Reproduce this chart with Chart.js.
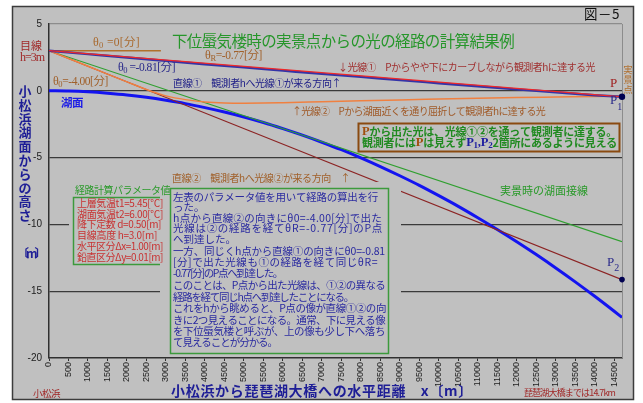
<!DOCTYPE html>
<html>
<head>
<meta charset="utf-8">
<script src="https://cdn.jsdelivr.net/npm/chart.js@4.4.0/dist/chart.umd.min.js"></script>
<style>
html,body{margin:0;padding:0;background:#fff;overflow:hidden}
canvas{display:block}
</style>
</head>
<body>
<canvas id="c" width="643" height="403"></canvas>
<script>
// ---- axis ticks ----
const xTicks = [0,500,1000,1500,2000,2500,3000,3500,4000,4500,5000,5500,6000,6500,7000,
                7500,8000,8500,9000,9500,10000,10500,11000,11500,12000,12500,13000,13500,14000,14500];
const yTicks = [5,0,-5,-10,-15,-20];

// ---- lake surface (湖面) height vs distance ----
const lakeX = [0,500,1000,1500,2000,2500,3000,3500,4000,4500,5000,5500,6000,6500,7000,7500,
               8000,8500,9000,9500,10000,10500,11000,11500,12000,12500,13000,13500,14000,14500,14700];
const lakeY = [0,-0.02,-0.08,-0.18,-0.31,-0.49,-0.71,-0.96,-1.26,-1.59,-1.96,-2.37,-2.83,-3.32,-3.85,-4.41,
               -5.02,-5.67,-6.36,-7.08,-7.85,-8.65,-9.50,-10.38,-11.30,-12.26,-13.26,-14.30,-15.38,-16.50,-16.96];

// ---- tangent to the lake surface (実景時の湖面接線) ----
const tangentX = [0,14700];
const tangentY = [3,-11.29];

// ---- straight line ② (θ0 = -4.00 分) ----
const line2X = [0,14700];
const line2Y = [3,-14.13];

// ---- straight line ① (θ0 = -0.81 分) ----
const line1X = [0,14700];
const line1Y = [3,-0.46];

// ---- horizontal line θ0 = 0 ----
const levelX = [0,2870];
const levelY = [3,3];

// ---- light ray ① ----
const ray1X = [0,1000,2000,3000,4000,5000,6000,7000,8000,9000,10000,11000,12000,13000,14000,14700];
const ray1Y = [3,2.745,2.49,2.24,1.99,1.75,1.51,1.27,1.04,0.80,0.57,0.34,0.11,-0.11,-0.33,-0.45];

// ---- light ray ② ----
const ray2X = [0,500,1000,1500,2000,2500,2800,3000,3500,4000,4500,5000,5500,6000,7000,8000,
               9000,10000,11000,12000,13000,14000,14700];
const ray2Y = [3,2.42,1.84,1.25,0.67,0.10,-0.20,-0.38,-0.66,-0.83,-0.91,-0.93,-0.92,-0.89,-0.82,-0.75,
               -0.68,-0.62,-0.56,-0.51,-0.47,-0.43,-0.40];

// ---- end points P1 / P2 ----
const markX = [14700,14700];
const markY = [-0.45,-14.13];

const pts = (xs, ys) => xs.map((x, i) => ({x: x, y: ys[i]}));

const JP = '"Noto Sans CJK JP", sans-serif';
const SERIF = '"Liberation Serif", "Noto Sans CJK JP", serif';
const fj = (s, b) => (b ? 'bold ' : '') + s + 'px ' + JP;
const fs = (s, b) => (b ? 'bold ' : '') + s + 'px ' + SERIF;

// draw a run of coloured segments, optionally spread to a given width
function richText(ctx, segs, x, y, w) {
  ctx.save();
  ctx.textBaseline = 'middle';
  ctx.textAlign = 'left';
  ctx.letterSpacing = '0px';
  let nat = 0, n = 0;
  segs.forEach(s => { ctx.font = s.f; nat += ctx.measureText(s.t).width; n += [...s.t].length; });
  let ls = 0;
  if (w) ls = Math.max(-3, Math.min(5, (w - nat) / Math.max(1, n)));
  ctx.letterSpacing = ls + 'px';
  let cx = x;
  segs.forEach(s => {
    ctx.font = s.f;
    ctx.fillStyle = s.c;
    ctx.fillText(s.t, cx, y + (s.dy || 0));
    cx += ctx.measureText(s.t).width;
  });
  ctx.restore();
}
const S = (t, c, f, dy) => ({t: t, c: c, f: f, dy: dy || 0});

function thetaLabel(ctx, sub, rest, color, x, y, w) {
  richText(ctx, [S('θ', color, fs(12)), S(sub, color, fs(8.5), 3), S(rest, color, fs(11.5))], x, y, w);
}

function box(ctx, x1, y1, x2, y2, stroke, lw, mask) {
  ctx.save();
  if (mask) {
    ctx.fillStyle = '#c0c0c0';
    ctx.fillRect(mask[0], mask[1], mask[2] - mask[0], mask[3] - mask[1]);
  }
  ctx.fillStyle = '#c0c0c0';
  ctx.fillRect(x1, y1, x2 - x1, y2 - y1);
  ctx.strokeStyle = stroke;
  ctx.lineWidth = lw;
  ctx.strokeRect(x1 + 0.5, y1 + 0.5, x2 - x1, y2 - y1);
  ctx.restore();
}

const frame = {
  id: 'frame',
  beforeDraw(chart) {
    const c = chart.ctx;
    c.save();
    c.fillStyle = '#ffffff';
    c.fillRect(0, 0, chart.width, chart.height);
    c.fillStyle = '#c0c0c0';
    c.fillRect(12, 6, 622, 394);
    c.strokeStyle = '#3c3c3c';
    c.lineWidth = 1.5;
    c.strokeRect(12.5, 6.5, 621, 393);
    c.restore();
  },
  beforeDatasetsDraw(chart) {
    const c = chart.ctx;
    const a = chart.chartArea;
    // right edge of plot
    c.save();
    c.strokeStyle = '#8c8c8c';
    c.lineWidth = 1;
    c.beginPath();
    c.moveTo(a.right + 0.5, a.top);
    c.lineTo(a.right + 0.5, a.bottom);
    c.stroke();
    c.restore();
  },
  afterDatasetsDraw(chart) {
    const c = chart.ctx;
    // parameter table
    box(c, 73, 197, 167, 264, '#3c9a3c', 1.5, [69, 186, 170, 268]);
    // explanation box
    box(c, 170, 188, 388, 353, '#3c9a3c', 1.5, [160, 182, 401, 356]);
    // conclusion box
    box(c, 358, 123, 619, 151, '#8a4a10', 2);
  },
  afterDraw(chart) {
    const c = chart.ctx;
    const title = '#26962a';

    // heading
    richText(c, [S('下位蜃気楼時の実景点からの光の経路の計算結果例', title, fj(15.5))], 172, 41, 342);
    richText(c, [S('図－5', '#101010', fj(13.5))], 584, 14, 36);

    // observer height
    richText(c, [S('目線', '#a02828', fj(11))], 20, 46, 22);
    richText(c, [S('h=3m', '#a02828', fs(12))], 20, 58, 24);

    // vertical axis title
    c.save();
    c.font = fj(13, true);
    c.fillStyle = '#1e1e96';
    c.textAlign = 'center';
    c.textBaseline = 'middle';
    [...'小松浜湖面からの高さ'].forEach((ch, i) => c.fillText(ch, 25, 91 + i * 13.8));
    c.restore();
    richText(c, [S('〔m〕', '#1e1e96', fj(12, true))], 17, 253, 23);

    // horizontal axis titles
    richText(c, [S('小松浜から琵琶湖大橋への水平距離　x〔m〕', '#1e1e96', fj(14, true))], 171, 391, 302);
    richText(c, [S('小松浜', '#a02828', fj(9.5))], 33, 393, 27);
    richText(c, [S('琵琶湖大橋までは14.7km', '#a02828', fj(9))], 524, 393, 91);

    // real point label (vertical)
    c.save();
    c.font = fj(9.5);
    c.fillStyle = '#b07030';
    c.textAlign = 'center';
    c.textBaseline = 'middle';
    [...'実景点'].forEach((ch, i) => c.fillText(ch, 628, 69.5 + i * 9.8));
    c.restore();

    // lake label
    richText(c, [S('湖面', '#1e1ee6', fj(11.5, true))], 61, 103, 22);

    // launch angles
    thetaLabel(c, '0', ' =0[分]', '#a8682c', 93, 43, 47);
    thetaLabel(c, '0', ' =-0.81[分]', '#2a2a8a', 118, 68, 57);
    thetaLabel(c, '0', '=-4.00[分]', '#a0602a', 53, 82, 55);
    thetaLabel(c, 'R', '=-0.77[分]', '#a0602a', 205, 56, 57);

    // line / ray descriptions
    richText(c, [S('直線①　観測者hへ光線①が来る方向↑', '#202088', fj(10))], 173, 83, 168);
    richText(c, [S('↓光線①　Pからやや下にカーブしながら観測者hに達する光', '#a03030', fj(10))], 338, 67, 257);
    richText(c, [S('↑光線②　Pから湖面近くを通り屈折して観測者hに達する光', '#a05a28', fj(10))], 292, 111, 253);
    richText(c, [S('直線②　観測者hへ光線②が来る方向　↑', '#a0602a', fj(10))], 172, 178, 178);
    richText(c, [S('実景時の湖面接線', '#2a9a2a', fj(11))], 500, 191, 88);

    // conclusion
    const g = '#208a20', br = '#a05010', bl = '#2020a0';
    richText(c, [S('P', br, fs(12.5, true)), S('から出た光は、光線①②を通って観測者に達する。', g, fj(11, true))], 362, 131.5, 255);
    richText(c, [S('観測者には', g, fj(11, true)), S('P', br, fs(12.5, true)), S('は見えず', g, fj(11, true)),
                 S('P', bl, fs(12.5, true)), S('1', bl, fs(9, true), 3), S(',', bl, fs(12.5, true)),
                 S('P', bl, fs(12.5, true)), S('2', bl, fs(9, true), 3), S('2箇所にあるように見える', g, fj(11, true))],
             362, 142.5, 255);

    // parameter table
    richText(c, [S('経路計算パラメータ値', '#2a9a2a', fj(10))], 75, 190, 95);
    const red = '#c83232';
    const params = ['上層気温t1=5.45[℃]', '湖面気温t2=6.00[℃]', '降下定数 d=0.50[m]',
                    '目線高度 h=3.0[m]', '水平区分Δx=1.00[m]', '鉛直区分Δy=0.01[m]'];
    const pw = [86, 86, 84, 80, 86, 86];
    params.forEach((t, i) => richText(c, [S(t, red, fj(10))], 77, 203 + i * 10.8, pw[i]));

    // explanation
    const blue = '#2a2aa0';
    const lines = [
      ['左表のパラメータ値を用いて経路の算出を行', 197, 205],
      ['った。', 207.5, 0],
      ['h点から直線②の向きにθ0=-4.00[分]で出た', 218, 209],
      ['光線は②の経路を経てθR=-0.77[分]のP点', 228.5, 210],
      ['へ到達した。', 239, 0],
      ['一方、同じくh点から直線①の向きにθ0=-0.81', 251, 212],
      ['[分]で出た光線も①の経路を経て同じθR=', 262, 205],
      ['-0.77[分]のP点へ到達した。', 273, 109],
      ['このことは、P点から出た光線は、①②の異なる', 285, 212],
      ['経路を経て同じh点へ到達したことになる。', 297, 180],
      ['これをhから眺めると、P点の像が直線①②の向', 308.5, 213],
      ['きに2つ見えることになる。通常、下に見える像', 320, 212],
      ['を下位蜃気楼と呼ぶが、上の像も少し下へ落ち', 331, 212],
      ['て見えることが分かる。', 342, 104]
    ];
    lines.forEach(l => richText(c, [S(l[0], blue, fj(10.5))], 173, l[1], l[2] || undefined));

    // end point labels
    richText(c, [S('P', '#a02020', fs(13))], 610, 84);
    richText(c, [S('P', '#2a2a8a', fs(13)), S('1', '#2a2a8a', fs(10), 6)], 610, 101);
    richText(c, [S('P', '#2a2a8a', fs(13)), S('2', '#2a2a8a', fs(10), 5)], 607, 263);
  }
};

const lineDs = (label, xs, ys, color, width, smooth) => ({
  label: label,
  data: pts(xs, ys),
  showLine: true,
  borderColor: color,
  backgroundColor: color,
  borderWidth: width,
  pointRadius: 0,
  fill: false,
  cubicInterpolationMode: smooth ? 'monotone' : 'default',
  tension: smooth ? 0.4 : 0
});

new Chart(document.getElementById('c'), {
  type: 'scatter',
  data: {
    datasets: [
      {
        label: 'P',
        data: pts(markX, markY),
        showLine: false,
        clip: false,
        pointRadius: [3.2, 2.8],
        pointBackgroundColor: '#000050',
        pointBorderWidth: 0
      },
      lineDs('直線①', line1X, line1Y, '#f02828', 1.2, false),
      lineDs('光線①', ray1X, ray1Y, '#3434a8', 2.4, true),
      lineDs('光線②', ray2X, ray2Y, '#f08040', 1.5, true),
      lineDs('直線②', line2X, line2Y, '#8c2424', 1.2, false),
      lineDs('実景時の湖面接線', tangentX, tangentY, '#30a030', 1.2, false),
      lineDs('θ0=0', levelX, levelY, '#b0702a', 1.6, false),
      lineDs('湖面', lakeX, lakeY, '#1414f0', 3, true)
    ]
  },
  options: {
    responsive: false,
    devicePixelRatio: 1,
    animation: false,
    events: [],
    layout: {padding: {left: 0, top: 24, right: 21, bottom: 0}},
    plugins: {legend: {display: false}, tooltip: {enabled: false}},
    scales: {
      x: {
        type: 'linear',
        min: 0,
        max: 14700,
        afterBuildTicks: s => { s.ticks = xTicks.map(v => ({value: v})); },
        afterFit: s => { s.height = 45; },
        ticks: {
          autoSkip: false,
          minRotation: 90,
          maxRotation: 90,
          padding: 1,
          color: '#202020',
          font: {family: 'Liberation Sans', size: 9},
          callback: v => String(v)
        },
        grid: {drawOnChartArea: false, drawTicks: true, tickLength: 3, color: '#303030'},
        border: {display: true, color: '#303030', width: 1.5}
      },
      y: {
        type: 'linear',
        min: -20,
        max: 5,
        afterBuildTicks: s => { s.ticks = yTicks.map(v => ({value: v})); },
        afterFit: s => { s.width = 49; },
        ticks: {
          padding: 7,
          color: '#202020',
          font: {family: 'Liberation Sans', size: 10},
          callback: v => String(v)
        },
        grid: {
          drawTicks: false,
          lineWidth: 1.2,
          color: ctx => ctx.tick && ctx.tick.value === 5 ? '#8c8c8c'
                      : (ctx.tick && ctx.tick.value === -20 ? 'rgba(0,0,0,0)' : '#3a3a3a')
        },
        border: {display: true, color: '#303030', width: 1.5}
      }
    }
  },
  plugins: [frame]
});
</script>
</body>
</html>
